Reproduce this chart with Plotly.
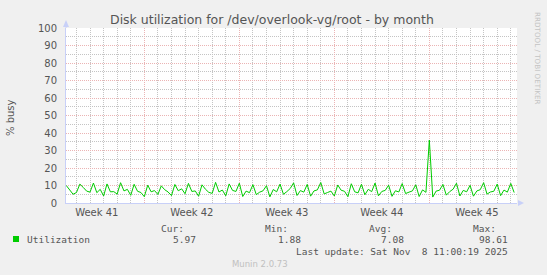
import pandas as pd
import plotly.graph_objects as go

# ---- data ----
start_time = "2025-10-06 06:00"
sample_freq = "6h"
utilization = [
    10.0, 7.6, 5.0,
    6.0, 10.8, 8.9, 6.8,
    6.2, 11.4, 5.9, 7.8,
    4.0, 10.9, 6.4, 6.5,
    5.1, 11.6, 6.9, 7.8,
    4.4, 10.7, 6.7, 6.0,
    3.6, 10.2, 6.4, 7.1,
    4.9, 9.8, 7.6, 6.3,
    4.2, 10.6, 7.0, 8.1,
    5.3, 11.2, 6.6, 6.9,
    3.9, 10.4, 7.9, 6.1,
    5.5, 11.8, 6.3, 7.4,
    4.1, 10.9, 7.2, 6.6,
    11.3, 3.7, 6.8, 5.9,
    10.5, 4.8, 6.2, 7.0,
    9.9, 3.5, 7.7, 6.4,
    10.8, 5.0, 6.5, 8.3,
    11.5, 4.3, 7.1, 6.2,
    10.6, 3.9, 6.9, 7.5,
    11.7, 5.2, 6.0, 6.8,
    4.0, 10.3, 7.3, 6.7,
    3.6, 11.0, 6.4, 5.8,
    10.7, 4.7, 7.8, 6.5,
    11.4, 4.1, 6.6, 7.2,
    10.2, 3.8, 7.0, 6.3,
    11.1, 5.4, 6.2, 6.9,
    10.4, 3.7, 7.5, 6.1,
    36.0, 3.4, 6.8, 7.3,
    10.6, 4.5, 6.5, 7.9,
    11.3, 4.0, 7.2, 6.4,
    10.1, 3.9, 6.9, 7.6,
    11.6, 5.1, 6.3, 6.7,
    10.8, 4.2, 7.4, 6.2,
    11.2, 5.97,
]
range_start = "2025-10-06 05:30"
range_end = "2025-11-08 11:00"
week_starts = ["2025-10-12", "2025-10-19", "2025-10-26", "2025-11-02"]
week_label_pos = ["2025-10-08 12:00", "2025-10-15 12:00", "2025-10-22 12:00",
                  "2025-10-29 12:00", "2025-11-05 12:00"]
week_labels = ["Week 41", "Week 42", "Week 43", "Week 44", "Week 45"]
y_ticks = list(range(0, 101, 10))
stat_headers = ["Cur:", "Min:", "Avg:", "Max:"]
stat_values = ["5.97", "1.88", "7.08", "98.61"]
series_name = "Utilization"
title_text = "Disk utilization for /dev/overlook-vg/root - by month"
last_update = "Last update: Sat Nov  8 11:00:19 2025"

times = pd.date_range(start_time, periods=len(utilization), freq=sample_freq)
days = [d for d in pd.date_range("2025-10-06", "2025-11-09", freq="1D")
        if d.strftime("%Y-%m-%d") not in week_starts]

W, H = 547, 275
L, R, T, B = 66, 517, 28, 203
PW, PH = R - L, B - T


def px(x, y):
    return (x - L) / PW, (B - y) / PH


GREEN = "#00CC00"
MAJOR = "#EBB4B4"
MINOR = "#C4C4C4"
AXIS = "#C8D0F8"
TXT = "#555555"

fig = go.Figure()
fig.add_trace(go.Scatter(x=times, y=utilization, mode="lines",
                         line=dict(color=GREEN, width=1), xaxis="x", yaxis="y",
                         showlegend=False, hoverinfo="skip"))
fig.add_trace(go.Scatter(x=[times[0]], y=[None], xaxis="x2", yaxis="y",
                         showlegend=False, hoverinfo="skip"))

fig.update_layout(
    width=W, height=H,
    margin=dict(l=L, r=W - R, t=T, b=H - B, pad=0),
    paper_bgcolor="#F0F0F0", plot_bgcolor="#FFFFFF",
    font=dict(family="DejaVu Sans", size=10, color=TXT),
    xaxis=dict(type="date", range=[range_start, range_end],
               tickmode="array", tickvals=week_label_pos, ticktext=week_labels,
               showgrid=False, zeroline=False, ticks="", ticklen=0,
               tickfont=dict(size=10, color=TXT),
               showline=True, linecolor=AXIS, linewidth=1,
               minor=dict(tickmode="array", tickvals=days, showgrid=True,
                          gridcolor=MINOR, griddash="1px,1px", gridwidth=1,
                          ticks="")),
    xaxis2=dict(type="date", range=[range_start, range_end], overlaying="x",
                tickmode="array", tickvals=week_starts, showticklabels=False,
                showgrid=True, gridcolor=MAJOR, griddash="1px,1px",
                gridwidth=1, zeroline=False, ticks=""),
    yaxis=dict(range=[0, 100], tickmode="array", tickvals=y_ticks,
               showgrid=True, gridcolor=MAJOR, griddash="1px,1px",
               zeroline=False, ticks="", ticklabelstandoff=6,
               tickfont=dict(size=10, color=TXT),
               showline=True, linecolor=AXIS, linewidth=1,
               minor=dict(dtick=5, tick0=0, showgrid=True, gridcolor=MINOR,
                          griddash="1px,1px", ticks="")),
)

shapes = []
ax0, ay0 = px(L, T - 1)
ax1, ay1 = px(L - 3, T - 1)
ax2, ay2 = px(L + 3, T - 1)
atx, aty = px(L, T - 8)
shapes.append(dict(type="path", xref="paper", yref="paper",
                   path=f"M{ax1},{ay1} L{ax2},{ay2} L{atx},{aty} Z",
                   fillcolor=AXIS, line=dict(width=0)))
shapes.append(dict(type="line", xref="paper", yref="paper",
                   x0=0, y0=1, x1=ax0, y1=ay0, line=dict(color=AXIS, width=1)))
bx1, by1 = px(R + 1, B - 3)
bx2, by2 = px(R + 1, B + 3)
btx, bty = px(R + 7, B)
shapes.append(dict(type="path", xref="paper", yref="paper",
                   path=f"M{bx1},{by1} L{bx2},{by2} L{btx},{bty} Z",
                   fillcolor=AXIS, line=dict(width=0)))
s0x, s0y = px(13, 236)
s1x, s1y = px(19, 242)
shapes.append(dict(type="rect", xref="paper", yref="paper",
                   x0=s0x, y0=s1y, x1=s1x, y1=s0y,
                   fillcolor=GREEN, line=dict(width=0)))
fig.update_layout(shapes=shapes)

ann = []


def text(x, y, s, size=10, color=TXT, family="DejaVu Sans", xanchor="center",
         angle=0):
    ax_, ay_ = px(x, y)
    ann.append(dict(x=ax_, y=ay_, xref="paper", yref="paper", text=s,
                    showarrow=False, xanchor=xanchor, yanchor="middle",
                    textangle=angle,
                    font=dict(size=size, color=color, family=family)))


text(272, 19, title_text, size=12.5, color="#555555")
text(11, 118, "% busy", size=10, angle=-90)
text(537, 58, "RRDTOOL / TOBI OETIKER", size=7.2, color="#C4C4C4", angle=90)
MONO = "DejaVu Sans Mono"
text(25, 239, series_name, size=9.5, family=MONO, xanchor="left")
for hx, h in zip([186, 290, 394, 498], stat_headers):
    text(hx, 228, h, size=9.5, family=MONO, xanchor="right")
for vx, v in zip([198, 303, 406, 510], stat_values):
    text(vx, 239, v, size=9.5, family=MONO, xanchor="right")
text(510, 251, last_update.replace("  ", "&nbsp; "), size=9.5, family=MONO,
     xanchor="right")
text(260, 264, "Munin 2.0.73", size=8.5, color="#C0C0C0")
fig.update_layout(annotations=ann)

fig.write_html("out.html")
